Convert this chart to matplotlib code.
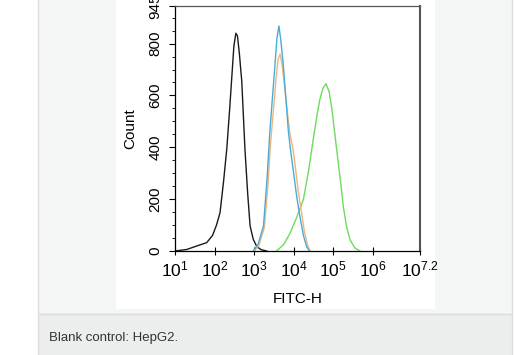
import matplotlib.pyplot as plt
from matplotlib.patches import Rectangle

plt.rcParams['font.family'] = ['Liberation Sans', 'DejaVu Sans']
plt.rcParams['mathtext.fontset'] = 'custom'
plt.rcParams['mathtext.rm'] = 'Liberation Sans'
plt.rcParams['mathtext.it'] = 'Liberation Sans'

# histogram outlines: log10(FITC-H) vs count
black_log = [1.0, 1.3, 1.6, 1.8, 1.95, 2.05, 2.14, 2.23, 2.31, 2.38, 2.43, 2.49, 2.54, 2.58, 2.63, 2.69, 2.77, 2.84, 2.9, 2.98, 3.07, 3.18, 3.32]
black_cnt = [0, 6, 22, 32, 60, 100, 148, 270, 393, 540, 654, 790, 840, 830, 760, 654, 393, 220, 97, 45, 17, 5, 0]

blue_log = [2.98, 3.1, 3.24, 3.33, 3.4, 3.47, 3.53, 3.58, 3.63, 3.68, 3.74, 3.8, 3.87, 3.94, 4.0, 4.08, 4.16, 4.25, 4.33, 4.4]
blue_cnt = [0, 25, 97, 280, 460, 600, 718, 820, 868, 810, 718, 600, 460, 370, 303, 210, 134, 60, 17, 0]

orange_log = [3.0, 3.12, 3.26, 3.35, 3.42, 3.5, 3.56, 3.61, 3.66, 3.71, 3.77, 3.84, 3.91, 3.98, 4.04, 4.12, 4.2, 4.28, 4.36, 4.42]
orange_cnt = [0, 20, 90, 250, 420, 560, 670, 740, 760, 720, 640, 540, 450, 400, 330, 230, 150, 70, 20, 0]

green_log = [3.57, 3.75, 3.91, 4.08, 4.25, 4.38, 4.5, 4.6, 4.67, 4.75, 4.82, 4.9, 4.97, 5.03, 5.09, 5.18, 5.26, 5.34, 5.43, 5.55, 5.68]
green_cnt = [0, 25, 68, 130, 199, 310, 432, 530, 588, 630, 645, 615, 549, 470, 393, 280, 171, 95, 43, 12, 0]

x_tick_exp = [1, 2, 3, 4, 5, 6, 7.2]
x_tick_labels = ['$10^{1}$', '$10^{2}$', '$10^{3}$', '$10^{4}$', '$10^{5}$', '$10^{6}$', '$10^{7.2}$']
y_ticks = [0, 200, 400, 600, 800, 945]

fig = plt.figure(figsize=(5.15, 3.55), dpi=100)
W, H = 515, 355

def px_rect(x0, y0, x1, y1, **kw):
    # rectangle in pixel coords (y from top), kept behind the axes
    fig.patches.append(Rectangle((x0 / W, 1 - y1 / H), (x1 - x0) / W, (y1 - y0) / H,
                                 transform=fig.transFigure, figure=fig, zorder=-10, **kw))

px_rect(38, -2, 512, 314, facecolor='#f4f5f5', edgecolor='#dcdede', linewidth=1)
px_rect(38, 314, 512, 356, facecolor='#eceeee', edgecolor='#dcdede', linewidth=1)
px_rect(116, 0, 435, 309, facecolor='white', edgecolor='none')
fig.text(49 / W, 1 - 338 / H, 'Blank control: HepG2.', fontsize=9.5, color='#333333', va='center')

ax = fig.add_axes([175 / W, 1 - 251 / H, 245 / W, 245 / H])
ax.set_facecolor('white')

series = [(black_log, black_cnt, '#1a1a1a'), (green_log, green_cnt, '#6cdc5c'),
          (orange_log, orange_cnt, '#f0b47c'), (blue_log, blue_cnt, '#48acd8')]
for lg, cnt, col in series:
    ax.plot([10 ** v for v in lg], cnt, color=col, linewidth=1.0)

ax.set_xscale('log')
ax.set_xlim(10 ** 1, 10 ** 7.2)
ax.set_ylim(0, 945)
ax.set_xticks([10 ** v for v in x_tick_exp])
ax.set_xticklabels(x_tick_labels, fontsize=12.5)
ax.set_yticks(y_ticks)
ax.set_yticklabels([str(v) for v in y_ticks], fontsize=11, rotation=90, va='center')
ax.set_yticks(range(0, 945, 50), minor=True)
ax.tick_params(axis='x', which='major', direction='inout', length=6, width=0.8, pad=3)
ax.tick_params(axis='x', which='minor', direction='out', length=3, width=0.6)
ax.tick_params(axis='y', which='major', direction='out', length=4, width=0.8, pad=5)
ax.tick_params(axis='y', which='minor', direction='out', length=2, width=0.6)
for s in ax.spines.values():
    s.set_linewidth(0.9)
ax.spines['top'].set_color('#555555')
ax.spines['right'].set_color('#555555')
ax.spines['right'].set_linewidth(1.5)

ax.set_xlabel('FITC-H', fontsize=11, labelpad=9)
ax.set_ylabel('Count', fontsize=11, labelpad=8)

fig.savefig('out.png', dpi=100)
